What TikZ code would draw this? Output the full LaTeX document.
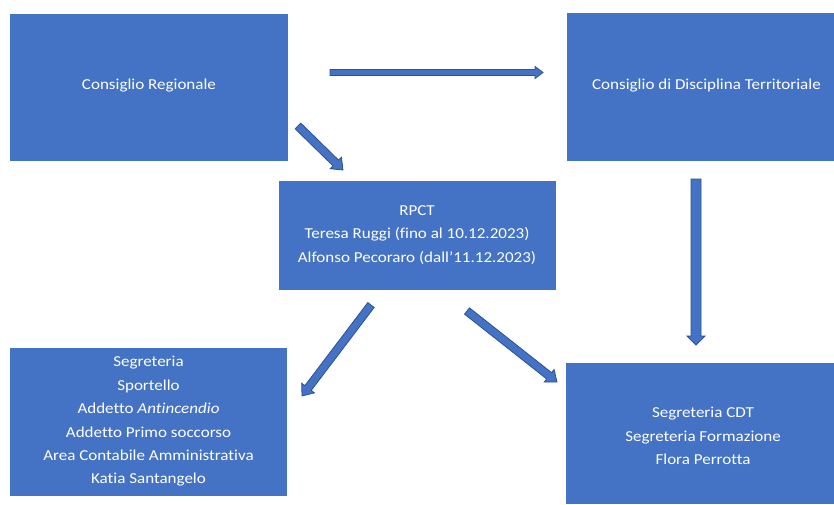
\documentclass[tikz,border=0pt]{standalone}
\usepackage{fontspec}
\setmainfont{Carlito}[FakeStretch=1.12, Ligatures={NoCommon}]
\usetikzlibrary{calc}
\definecolor{boxblue}{HTML}{4472C4}
\definecolor{edgeblue}{HTML}{2F528F}
\tikzset{
  orgbox/.style={fill=boxblue, draw=none, inner sep=0pt},
  boxtext/.style={text=white, align=center, font=\fontsize{15.2}{23.4}\selectfont},
  blockarrow/.style={fill=boxblue, draw=edgeblue, line width=0.8pt, line join=miter},
}
% #1 from, #2 to, #3 shaft half width, #4 head half width, #5 head length
\newcommand{\blockarrowpath}[5]{%
  \draw[blockarrow] let \p1=($(#2)-(#1)$), \n1={atan2(\y1,\x1)}, \n2={veclen(\x1,\y1)} in
    [shift={(#1)}, rotate=\n1]
    (0,-#3) -- (\n2-#5,-#3) -- (\n2-#5,-#4) -- (\n2,0) -- (\n2-#5,#4) -- (\n2-#5,#3) -- (0,#3) -- cycle;
}
\begin{document}
\begin{tikzpicture}[x=1pt,y=1pt]
\useasboundingbox (0,0) rectangle (834,-504);
\fill[white] (0,0) rectangle (834,-504);
% boxes
\fill[orgbox] (10,-14) rectangle (288,-161);
\node[boxtext] (cr) at (149,-86) {Consiglio Regionale};
\fill[orgbox] (567,-13) rectangle (834,-161);
\node[boxtext] (cdt) at (706.5,-86) {Consiglio di Disciplina Territoriale};
\fill[orgbox] (279,-181) rectangle (556,-290);
\node[boxtext] (rpct) at (417,-235) {RPCT\\Teresa Ruggi (fino al 10.12.2023)\\Alfonso Pecoraro (dall’11.12.2023)};
\fill[orgbox] (10,-348) rectangle (287,-496);
\node[boxtext] (seg) at (148.5,-421.5) {Segreteria\\Sportello\\Addetto \textit{Antincendio}\\Addetto Primo soccorso\\Area Contabile Amministrativa\\Katia Santangelo};
\fill[orgbox] (566,-363) rectangle (834,-504);
\node[boxtext] (segcdt) at (703,-436) {Segreteria CDT\\Segreteria Formazione\\Flora Perrotta};
% arrow end points
\coordinate (h1) at (330,-72.5);
\coordinate (h2) at (543,-72.5);
\coordinate (d1) at (298,-126);
\coordinate (d2) at (343,-170);
\coordinate (v1) at (696,-179);
\coordinate (v2) at (696,-345);
\coordinate (l1) at (371,-305);
\coordinate (l2) at (302,-396);
\coordinate (r1) at (467,-311);
\coordinate (r2) at (557,-382);
\blockarrowpath{h1}{h2}{3}{6}{8}
\blockarrowpath{d1}{d2}{4}{8}{10}
\blockarrowpath{v1}{v2}{5}{9}{9}
\blockarrowpath{l1}{l2}{4}{8}{10}
\blockarrowpath{r1}{r2}{4}{8}{10}
\end{tikzpicture}
\end{document}
